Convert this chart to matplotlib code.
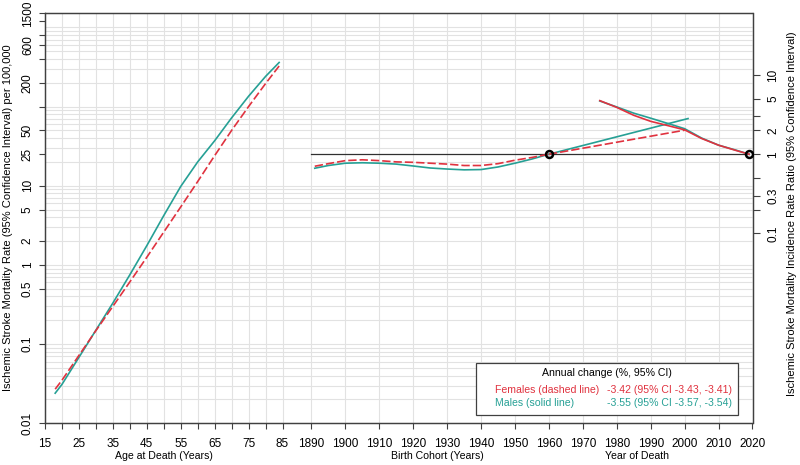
import numpy as np
import matplotlib.pyplot as plt
from matplotlib.patches import Rectangle
from matplotlib.ticker import NullLocator
from matplotlib.transforms import blended_transform_factory

plt.rcParams['font.family'] = ['Liberation Sans', 'DejaVu Sans']
plt.rcParams['font.size'] = 7.6

# age effect, rate per 100,000
age = [18, 20, 25, 30, 35, 40, 45, 50, 55, 60, 65, 70, 75, 80, 84]
rate_males = [0.024, 0.031, 0.068, 0.15, 0.33, 0.75, 1.75, 4.2, 9.8, 20, 37, 72, 135, 240, 360]
rate_females = [0.027, 0.035, 0.072, 0.148, 0.30, 0.61, 1.25, 2.6, 5.4, 11.3, 24, 50, 100, 195, 325]

# cohort effect (RR, ref 1960)
cohort = [1891, 1895, 1900, 1905, 1910, 1915, 1920, 1925, 1930, 1935, 1940, 1945, 1950, 1955, 1960]
rr_cohort_males = [0.665, 0.72, 0.77, 0.78, 0.77, 0.75, 0.71, 0.67, 0.65, 0.635, 0.64, 0.69, 0.77, 0.87, 1.0]
rr_cohort_females = [0.705, 0.76, 0.83, 0.85, 0.83, 0.80, 0.79, 0.77, 0.75, 0.72, 0.72, 0.76, 0.84, 0.91, 1.0]

# drift lines
drift_years_males = [1960, 2001]
drift_rr_males = [1.0, 2.82]
drift_years_females = [1960, 2000]
drift_rr_females = [1.0, 2.01]

# period effect (RR, ref 2019)
period = [1975, 1980, 1985, 1990, 1995, 2000, 2005, 2010, 2015, 2019]
rr_period_males = [4.7, 3.95, 3.3, 2.85, 2.45, 2.1, 1.6, 1.3, 1.13, 1.0]
rr_period_females = [4.75, 3.9, 3.1, 2.6, 2.3, 2.03, 1.58, 1.3, 1.12, 1.0]

ref_years = [1960, 2019]

age_ticks = list(range(15, 90, 5))
year_ticks = list(range(1890, 2030, 10))
rate_ticks = [0.01, 0.1, 0.5, 1, 2, 5, 10, 25, 50, 100, 200, 400, 600, 800, 1200, 1500]
rate_labels = ['0.01', '0.1', '0.5', '1', '2', '5', '10', '25', '50', '', '200', '', '600', '', '', '1500']
rr_ticks = [0.1, 0.2, 0.3, 0.5, 1, 2, 3, 5, 10]
rr_labels = ['0.1', '', '0.3', '', '1', '2', '', '5', '10']

RED = '#e0323f'
TEAL = '#26a095'
AXC = '#404040'
GRID = '#e2e2e2'
GAP = 1796.5   # calendar year -> shared x
RR_REF = 25.0  # rate that lines up with RR = 1
LW = 1.2


def yr(v):
    return np.asarray(v, dtype=float) - GAP


fig = plt.figure(figsize=(8, 4.65), dpi=100)
ax = fig.add_axes([45 / 800, 1 - 423.3 / 465, 707.5 / 800, 409.9 / 465])
ax.set_yscale('log')
ax.set_xlim(15, 2020 - GAP)
ax.set_ylim(0.01, 1500)

# grid
grid_y = [m * 10.0 ** k for k in range(-2, 4) for m in range(1, 10)]
grid_y = [g for g in grid_y if 0.01 < g < 1500]
ax.hlines(grid_y, 15, 2020 - GAP, color=GRID, lw=0.8, zorder=0)
ax.vlines(age_ticks[1:], 0.01, 1500, color=GRID, lw=0.8, zorder=0)
ax.vlines(yr(year_ticks[:-1]), 0.01, 1500, color=GRID, lw=0.8, zorder=0)

# x axis
ax.set_xticks(list(age_ticks) + list(yr(year_ticks)))
ax.set_xticklabels([str(a) if (a - 15) % 10 == 0 else '' for a in age_ticks] + [str(y) for y in year_ticks])
ax.set_yticks(rate_ticks)
ax.set_yticklabels(rate_labels)
ax.yaxis.set_minor_locator(NullLocator())
ax.tick_params(direction='out', length=4, width=0.8, color=AXC, labelsize=8.5)
ax.tick_params(axis='x', pad=6.5)
ax.tick_params(axis='y', pad=4)
for lab in ax.get_yticklabels():
    lab.set_rotation(90)
    lab.set_va('center')
for s in ax.spines.values():
    s.set_color(AXC)
    s.set_linewidth(0.9)

# age curves
ax.plot(age, rate_males, color=TEAL, lw=LW, zorder=3)
ax.plot(age, rate_females, color=RED, lw=LW, dashes=(5, 1.8), zorder=3)

# RR axis
ax2 = ax.twinx()
ax2.set_yscale('log')
ax2.set_ylim(0.01 / RR_REF, 1500 / RR_REF)
ax2.set_yticks(rr_ticks)
ax2.set_yticklabels(rr_labels)
ax2.yaxis.set_minor_locator(NullLocator())
ax2.tick_params(direction='out', length=5, width=0.8, color=AXC, pad=5.5, labelsize=8.5)
for lab in ax2.get_yticklabels():
    lab.set_rotation(90)
    lab.set_va('center')
for s in ax2.spines.values():
    s.set_color(AXC)
    s.set_linewidth(0.9)

ax2.plot(yr([1890, 2019]), [1, 1], color='#303030', lw=0.9, zorder=2)

ax2.plot(yr(cohort), rr_cohort_males, color=TEAL, lw=LW)
ax2.plot(yr(drift_years_males), drift_rr_males, color=TEAL, lw=LW)
ax2.plot(yr(period), rr_period_males, color=TEAL, lw=LW)
ax2.plot(yr(cohort), rr_cohort_females, color=RED, lw=LW, dashes=(5, 1.8))
ax2.plot(yr(drift_years_females), drift_rr_females, color=RED, lw=LW, dashes=(5, 1.8))
ax2.plot(yr(period), rr_period_females, color=RED, lw=LW)

ax2.plot(yr(ref_years), [1, 1], 'o', mfc='none', mec='black', mew=1.8, ms=5, zorder=5)

# axis titles
tb = blended_transform_factory(ax.transData, fig.transFigure)
ax.text(50, 1 - 456 / 465, 'Age at Death (Years)', transform=tb, ha='center', va='center')
ax.text(1927 - GAP, 1 - 456 / 465, 'Birth Cohort (Years)', transform=tb, ha='center', va='center')
ax.text(1986 - GAP, 1 - 456 / 465, 'Year of Death', transform=tb, ha='center', va='center')

fig.text(8 / 800, 1 - 218 / 465, 'Ischemic Stroke Mortality Rate (95% Confidence Interval) per 100,000',
         rotation=90, ha='center', va='center', fontsize=8)
fig.text(792 / 800, 1 - 214 / 465, 'Ischemic Stroke Mortality Incidence Rate Ratio (95% Confidence Interval)',
         rotation=90, ha='center', va='center', fontsize=8)

# legend box
box = Rectangle((475.7 / 800, 1 - 415.3 / 465), 262.6 / 800, 52 / 465, transform=fig.transFigure,
                fc='white', ec=AXC, lw=0.9, zorder=10)
fig.add_artist(box)
fig.text(606.7 / 800, 1 - 372.7 / 465, 'Annual change (%, 95% CI)', ha='center', va='center', zorder=11)
fig.text(495 / 800, 1 - 390 / 465, 'Females (dashed line)', color=RED, ha='left', va='center', zorder=11)
fig.text(732 / 800, 1 - 390 / 465, '-3.42 (95% CI -3.43, -3.41)', color=RED, ha='right', va='center', zorder=11)
fig.text(495 / 800, 1 - 402.7 / 465, 'Males (solid line)', color=TEAL, ha='left', va='center', zorder=11)
fig.text(732 / 800, 1 - 402.7 / 465, '-3.55 (95% CI -3.57, -3.54)', color=TEAL, ha='right', va='center', zorder=11)

fig.savefig('out.png', dpi=100)
